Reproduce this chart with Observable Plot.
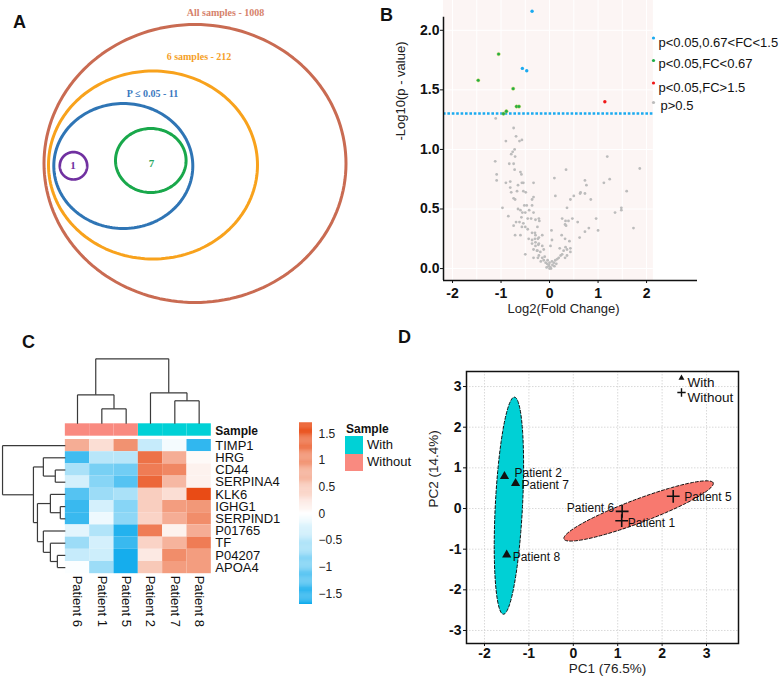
<!DOCTYPE html>
<html><head><meta charset="utf-8">
<script src="https://cdn.jsdelivr.net/npm/d3@7"></script>
<script src="https://cdn.jsdelivr.net/npm/@observablehq/plot@0.6"></script>
<style>
html,body{margin:0;padding:0;background:#fff;}
#root{position:relative;width:784px;height:680px;overflow:hidden;font-family:Arial,"Liberation Sans",sans-serif;color:#111;}
#root svg{position:absolute;}
.abs{position:absolute;white-space:nowrap;}
.letter{font:bold 18px Arial,"Liberation Sans",sans-serif;line-height:18px;}
</style></head><body><div id="root"></div>
<script>
// ================= DATA =================
// Panel A: nested protein sets
const vennNames  = ["All samples", "6 samples", "P ≤ 0.05", "", ""];
const vennCounts = [1008, 212, 11, 7, 1];

// Panel B: volcano plot  [log2FC, -log10 p]
const volcanoGray = [
 [-1.11,1.26],[-0.74,1.18],[-0.69,1.11],[-0.62,1.07],[-0.57,1.08],[-0.90,1.07],[-0.72,1.00],[-0.76,0.98],[-0.79,0.96],[-0.71,0.94],
 [-1.12,0.90],[-0.83,0.88],[-0.74,0.88],[-0.72,0.83],[-0.60,0.81],[-0.58,0.79],[-1.09,0.79],[-1.09,0.74],[-0.54,0.72],[-0.57,0.72],
 [-0.90,0.72],[-0.81,0.73],[-0.65,0.70],[-0.67,0.65],[-0.81,0.68],[-0.79,0.64],[-0.33,0.72],[-0.54,0.65],[-0.49,0.64],[-0.74,0.59],
 [-0.71,0.58],[-0.33,0.60],[-0.36,0.58],
 [-0.97,0.51],[-0.52,0.53],[-0.47,0.53],[-0.36,0.53],[-0.65,0.50],[-0.60,0.49],[-0.42,0.49],[-0.56,0.47],[-0.50,0.47],[-0.33,0.47],
 [-0.85,0.44],[-0.58,0.43],[-0.45,0.42],[-0.38,0.42],[-0.29,0.41],[-0.69,0.39],[-0.62,0.39],[-0.54,0.38],[-0.74,0.36],[-0.57,0.35],
 [-0.50,0.35],[-0.45,0.33],[-0.36,0.30],[-0.30,0.30],[-0.71,0.28],[-0.60,0.28],[-0.43,0.25],[-0.36,0.24],[-0.30,0.25],[-0.24,0.25],
 [-0.36,0.21],[-0.29,0.19],[-0.23,0.20],[-0.33,0.16],[-0.26,0.15],[-0.50,0.12],[-0.33,0.09],[-0.24,0.09],
 [-0.22,0.42],[-0.21,0.40],[0.04,0.32],[-0.25,0.35],[0.26,0.42],[0.32,0.37],[0.34,0.36],[0.12,0.61],[-0.29,0.28],[-0.22,0.26],
 [-0.15,0.28],[0.05,0.24],[0.25,0.28],[0.32,0.25],[-0.29,0.22],[-0.22,0.21],[-0.15,0.19],[0.02,0.19],[0.21,0.17],[0.29,0.15],
 [-0.25,0.15],[-0.19,0.14],[-0.12,0.16],
 [-0.22,0.11],[-0.15,0.09],[-0.12,0.07],[-0.08,0.05],[-0.05,0.04],[-0.01,0.03],[0.02,0.01],[0.06,0.03],[0.09,0.05],[0.12,0.07],
 [0.16,0.08],[0.19,0.09],[0.23,0.11],[0.26,0.12],[0.32,0.09],[0.36,0.11],[-0.18,0.06],[-0.10,0.10],[-0.04,0.07],[-0.02,0.02],
 [0.00,0.00],[0.03,0.00],[0.00,0.05],[0.05,0.06],[-0.06,0.01],[0.10,0.02],[0.14,0.04],
 [1.19,0.94],[1.86,0.84],[0.34,0.83],[1.12,0.72],[1.24,0.75],[0.73,0.74],[0.76,0.70],[1.59,0.65],[0.64,0.64],[0.63,0.63],
 [0.73,0.63],[0.50,0.61],[0.43,0.58],[0.85,0.58],[0.36,0.51],[1.48,0.51],[1.48,0.49],[1.35,0.47],[0.96,0.42],[0.47,0.42],
 [0.39,0.40],[0.33,0.40],[0.58,0.39],[0.81,0.34],[0.73,0.31],[1.00,0.32],[1.73,0.34],[0.62,0.26],[0.41,0.23],[0.33,0.18],
 [0.36,0.16],[0.43,0.17],[0.43,0.14],[0.10,0.76]
];
const volcanoMid  = [[-0.36,2.16],[-0.56,1.68],[-0.47,1.66]];                 // p<0.05, 0.67<FC<1.5
const volcanoDown = [[-1.05,1.80],[-1.47,1.58],[-0.75,1.51],[-0.68,1.36],[-0.63,1.36],[-0.89,1.32],[-0.95,1.30]]; // FC<0.67
const volcanoUp   = [[1.14,1.40]];                                             // FC>1.5
const volcanoLegend = ["p<0.05,0.67<FC<1.5", "p<0.05,FC<0.67", "p<0.05,FC>1.5", "p>0.5"];
const pThreshold = 1.301;
const volcanoXTicks = [-2, -1, 0, 1, 2];
const volcanoYTicks = [0, 0.5, 1, 1.5, 2];

// Panel C: heatmap (row z-scores)
const patients = ["Patient 6", "Patient 1", "Patient 5", "Patient 2", "Patient 7", "Patient 8"];
const patientGroup = ["Without", "Without", "Without", "With", "With", "With"];
const genes = ["TIMP1","HRG","CD44","SERPINA4","KLK6","IGHG1","SERPIND1","P01765","TF","P04207","APOA4"];
const zscores = [
 [ 0.75,  0.30,  1.00, -0.40, -0.08, -1.45],
 [-1.35, -0.50, -0.50,  1.30,  0.75,  0.05],
 [-0.60, -0.95, -1.00,  1.20,  1.10,  0.12],
 [-0.30, -0.85, -1.20,  1.40,  0.65,  0.12],
 [-1.20, -0.70, -0.60,  0.45,  0.30,  1.65],
 [-1.40, -0.30, -0.85,  0.45,  0.90,  0.95],
 [-1.40, -0.12, -0.80,  0.40,  0.75,  1.05],
 [-0.20, -0.55, -1.55,  1.20,  0.12,  0.75],
 [-0.70, -0.30, -1.40,  0.40,  0.70,  1.20],
 [-0.40, -0.35, -1.65,  0.20,  1.05,  0.90],
 [-0.03, -0.70, -1.65,  0.50,  0.90,  0.90]
];
const colTree = {h: 1, children: [
  {h: 0.446, children: ["Patient 6", {h: 0.23, children: ["Patient 1", "Patient 5"]}]},
  {h: 0.477, children: ["Patient 2", {h: 0.354, children: ["Patient 7", "Patient 8"]}]}]};
const rowTree = {h: 1, children: ["TIMP1",
  {h: 0.508, children: [
    {h: 0.35, children: ["HRG", {h: 0.16, children: ["CD44", "SERPINA4"]}]},
    {h: 0.444, children: [
      {h: 0.238, children: ["KLK6", {h: 0.08, children: ["IGHG1", "SERPIND1"]}]},
      {h: 0.35, children: ["P01765", {h: 0.238, children: ["TF", {h: 0.127, children: ["P04207", "APOA4"]}]}]}]}]}]};
const colorbarTicks = [-1.5, -1, -0.5, 0, 0.5, 1, 1.5];
const sampleGroups = ["With", "Without"];

// Panel D: PCA
const pcaPatients = ["Patient 2", "Patient 7", "Patient 8", "Patient 6", "Patient 1", "Patient 5"];
const pcaGroup = ["With", "With", "With", "Without", "Without", "Without"];
const pc1 = [-1.55, -1.30, -1.50, 1.10, 1.09, 2.25];
const pc2 = [ 0.79,  0.62, -1.14, -0.07, -0.30, 0.30];
const pcaXTicks = [-2, -1, 0, 1, 2, 3];
const pcaYTicks = [-3, -2, -1, 0, 1, 2, 3];
// confidence ellipses: centre, semi-axis vectors (data units)
const pcaEllipses = [
  {group: "With",    cx: -1.45, cy: 0.07,  ax: 0.125, ay: 2.67, bx: 0.306, by: -0.017},
  {group: "Without", cx: 1.47,  cy: -0.06, ax: 1.68,  ay: 0.69, bx: 0.093, by: -0.27}
];

// ================= STYLE / LAYOUT =================
const FONT = "'Liberation Sans', Arial, sans-serif";
const groupColor = {With: "#00d1d6", Without: "#f98a80"};
const vennLayout = [
  {cx:194.5, cy:163,   rx:151,   ry:139,  lx:225,   ly:12,   stroke:"#c96b52", text:"#d6826b", sw:3},
  {cx:152.5, cy:164.5, rx:104.5, ry:94,   lx:198.5, ly:56,   stroke:"#f8a21c", text:"#f5a027", sw:3},
  {cx:122.8, cy:165.5, rx:69.5,  ry:62.5, lx:152,   ly:93.5, stroke:"#2f75b5", text:"#3a78c0", sw:3},
  {cx:150.3, cy:160,   rx:35.3,  ry:32,   lx:151,   ly:163,  stroke:"#19a84b", text:"#2aa760", sw:3},
  {cx:73,    cy:165.3, rx:13.7,  ry:13.7, lx:72.5,  ly:165,  stroke:"#7030a0", text:"#7030a0", sw:2.7}
];
const volcanoColors = ["#1aaaf0", "#1fae48", "#f01818", "#bcbcbc"];
const pcaLabelOffsets = [
  {dx: 10, dy: -3, anchor: "start"}, {dx: 6, dy: 1.5, anchor: "start"}, {dx: 6, dy: 2.5, anchor: "start"},
  {dx: -8, dy: -3, anchor: "end"},   {dx: 6, dy: 2.5, anchor: "start"}, {dx: 11, dy: 1, anchor: "start"}
];
const tickText = {fontSize: 14, fontWeight: "bold", fontFamily: FONT, fill: "#111"};

const root = document.getElementById("root");
function put(el, left, top) { el.style.left = left + "px"; el.style.top = top + "px"; root.appendChild(el); return el; }
function div(html, left, top, css) { const d = document.createElement("div"); d.className = "abs"; d.innerHTML = html; if (css) d.style.cssText += css; return put(d, left, top); }
const transparent = {background: "transparent", overflow: "visible"};

// ================= PANEL A =================
function ellipsePoints(e, n = 160) {
  return d3.range(n).map(i => { const t = 2 * Math.PI * i / n; return {x: e.cx + e.rx * Math.cos(t), y: e.cy + e.ry * Math.sin(t)}; });
}
const vennText = vennNames.map((n, i) => n ? `${n} - ${vennCounts[i]}` : `${vennCounts[i]}`);
put(Plot.plot({
  width: 390, height: 310, margin: 0,
  x: {domain: [0, 390], range: [0, 390], axis: null},
  y: {domain: [0, 310], range: [0, 310], axis: null},
  style: transparent,
  marks: [
    ...vennLayout.map(e => Plot.line(ellipsePoints(e), {x: "x", y: "y", curve: "linear-closed", stroke: e.stroke, strokeWidth: e.sw})),
    ...vennLayout.map((e, i) => Plot.text([vennText[i]], {x: () => e.lx, y: () => e.ly, text: d => d, fill: e.text,
      fontFamily: "'Liberation Serif', 'DejaVu Serif', serif", fontWeight: "bold", fontSize: i >= 3 ? 11 : 10}))
  ]
}), 0, 0);

// ================= PANEL B =================
const bX0 = -2.186, bX1 = 3.05, bY0 = -0.10, bY1 = 2.25, bPanelRight = 2.14;
put(Plot.plot({
  width: 394, height: 320, marginLeft: 53, marginRight: 87, marginTop: 0, marginBottom: 40,
  x: {domain: [bX0, bX1]}, y: {domain: [bY0, bY1]},
  style: transparent,
  marks: [
    Plot.rect([0], {x1: () => bX0, x2: () => bPanelRight, y1: () => bY0, y2: () => bY1, fill: "#fcf5f4"}),
    Plot.ruleX(d3.range(-2, 2.01, 0.5), {y1: bY0, y2: bY1, stroke: "#ffffff", strokeWidth: 1}),
    Plot.ruleY(d3.range(0, 2.01, 0.5), {x1: bX0, x2: bPanelRight, stroke: "#ffffff", strokeWidth: 1}),
    Plot.ruleY([pThreshold], {x1: bX0, x2: bPanelRight, stroke: volcanoColors[0], strokeWidth: 2.6, strokeDasharray: "2.6,1.8"}),
    Plot.dot(volcanoGray, {x: d => d[0], y: d => d[1], r: 1.4, fill: volcanoColors[3]}),
    Plot.dot(volcanoMid,  {x: d => d[0], y: d => d[1], r: 1.7, fill: volcanoColors[0]}),
    Plot.dot(volcanoDown, {x: d => d[0], y: d => d[1], r: 1.7, fill: volcanoColors[1], stroke: "#c9cf3a", strokeWidth: 0.4}),
    Plot.dot(volcanoUp,   {x: d => d[0], y: d => d[1], r: 1.7, fill: volcanoColors[2]}),
    Plot.ruleX([bX0], {y1: bY0, y2: 2.11, strokeWidth: 1.5, stroke: "#111"}),
    Plot.ruleY([bY0], {x1: bX0, x2: bX1, strokeWidth: 1.5, stroke: "#111"}),
    Plot.axisY({ticks: volcanoYTicks, tickFormat: () => "", tickSize: 3, label: null, stroke: "#111"}),
    Plot.axisX({ticks: volcanoXTicks, tickFormat: () => "", tickSize: 3, label: null, stroke: "#111"}),
    Plot.text(volcanoYTicks, {x: () => bX0, y: d => d, dx: -4, text: d3.format(".1f"), textAnchor: "end", ...tickText}),
    Plot.text(volcanoXTicks, {x: d => d, y: () => bY0, dy: 13, text: d => String(d), ...tickText}),
    Plot.text(["-Log10(p - value)"], {frameAnchor: "left", dx: -43, rotate: -90, text: d => d, fontSize: 13, fontFamily: FONT, fill: "#222"}),
    Plot.text(["Log2(Fold Change)"], {frameAnchor: "bottom", dx: -7, dy: 32, text: d => d, fontSize: 13, fontFamily: FONT, fill: "#222"}),
    ...volcanoLegend.map((lab, i) => Plot.dot([lab], {frameAnchor: "top-right", dx: -44, dy: [37.5, 60, 82.5, 102][i], r: 1.6, fill: volcanoColors[i]})),
    ...volcanoLegend.map((lab, i) => Plot.text([lab], {frameAnchor: "top-right", dx: [-39, -39, -39, -37][i], dy: [37, 58, 82, 100][i],
      text: d => d, textAnchor: "start", fontSize: 13, fontFamily: FONT, fill: "#111"}))
  ]
}), 390, 0);

// ================= PANEL C =================
const cW = 410, cH = 350, cTop = 330;
const colW = 24.33, col0 = 77;       // px: width of a column, centre of first column
const rowH = 12.2, row0 = 445.1;     // px: height of a row, centre of first row (page)
const annTop = (423.3 - row0) / rowH, annBot = (435.7 - row0) / rowH;
const colDendroSpan = (423.3 - 358.3) / rowH;
const rowLeaf = -0.5, rowDendroSpan = (64.8 - 2) / colW;

function dendrogram(tree, order) {
  const segs = [];
  (function walk(node) {
    if (typeof node === "string") return {pos: order.indexOf(node), h: 0};
    const kids = node.children.map(walk);
    const p1 = kids[0].pos, p2 = kids[kids.length - 1].pos;
    segs.push({p1, p2, h1: node.h, h2: node.h});
    for (const k of kids) segs.push({p1: k.pos, p2: k.pos, h1: k.h, h2: node.h});
    return {pos: (p1 + p2) / 2, h: node.h};
  })(tree);
  return segs;
}
const colSegs = dendrogram(colTree, patients);
const rowSegs = dendrogram(rowTree, genes);
const cells = genes.flatMap((g, r) => patients.map((p, c) => ({r, c, v: zscores[r][c]})));
const colorScale = {type: "linear", domain: [-1.7, 0, 1.7], range: ["#0eaaec", "#ffffff", "#e8460e"]};

put(Plot.plot({
  width: cW, height: cH, margin: 0,
  x: {domain: [-col0 / colW, (cW - col0) / colW], range: [0, cW], axis: null},
  y: {domain: [(cTop - row0) / rowH, (cTop + cH - row0) / rowH], range: [0, cH], axis: null},
  color: colorScale,
  style: transparent,
  marks: [
    Plot.rect(cells, {x1: d => d.c - 0.5, x2: d => d.c + 0.5, y1: d => d.r - 0.5, y2: d => d.r + 0.5, fill: "v"}),
    ...sampleGroups.map(g => Plot.rect(patients.map((p, c) => c).filter(c => patientGroup[c] === g),
      {x1: c => c - 0.5, x2: c => c + 0.5, y1: () => annTop, y2: () => annBot, fill: groupColor[g]})),
    Plot.link(colSegs, {x1: "p1", x2: "p2", y1: d => annTop - d.h1 * colDendroSpan, y2: d => annTop - d.h2 * colDendroSpan,
      stroke: "#3a3a3a", strokeWidth: 1.2}),
    Plot.link(rowSegs, {y1: "p1", y2: "p2", x1: d => rowLeaf - d.h1 * rowDendroSpan, x2: d => rowLeaf - d.h2 * rowDendroSpan,
      stroke: "#3a3a3a", strokeWidth: 1.2}),
    Plot.text(genes, {x: () => patients.length - 0.5, y: (d, i) => i, dx: 4, text: d => d, textAnchor: "start",
      fontSize: 13, fontFamily: FONT, fill: "#111"}),
    Plot.text(patients, {x: (d, i) => i, y: () => genes.length - 0.5, dy: 2, rotate: 90, text: d => d, textAnchor: "start",
      fontSize: 13, fontFamily: FONT, fill: "#111"}),
    Plot.text(["Sample"], {x: () => patients.length - 0.5, y: () => (annTop + annBot) / 2, dx: 4, dy: 1, text: d => d,
      textAnchor: "start", fontSize: 12, fontWeight: "bold", fontFamily: FONT, fill: "#111"})
  ]
}), 0, cTop);

// colour bar
put(Plot.plot({
  width: 60, height: 210, marginLeft: 9, marginRight: 38, marginTop: 17.5, marginBottom: 11,
  x: {domain: [0, 1], axis: null}, y: {domain: [-1.7, 1.7], axis: null},
  color: colorScale, style: transparent,
  marks: [
    Plot.rect(d3.range(-1.7, 1.7, 0.02), {x1: () => 0, x2: () => 1, y1: d => d, y2: d => d + 0.022, fill: d => d + 0.01}),
    Plot.text(colorbarTicks, {x: () => 1, y: d => d, dx: 6, text: d3.format("~g"), textAnchor: "start",
      fontSize: 12, fontFamily: FONT, fill: "#222"})
  ]
}), 290, 405);

// sample legend
div("Sample", 346, 422.5, "font:bold 12px " + FONT + ";line-height:12px;");
sampleGroups.forEach((g, i) => {
  div("", 345, 436 + i * 17.5, `width:18px;height:17.5px;background:${groupColor[g]};`);
  div(g, 367, 437.5 + i * 17.5, "font:13px " + FONT + ";line-height:13px;");
});

// ================= PANEL D =================
function rotatedEllipse(e, n = 160) {
  return d3.range(n).map(i => { const t = 2 * Math.PI * i / n, c = Math.cos(t), s = Math.sin(t);
    return {x: e.cx + e.ax * c + e.bx * s, y: e.cy + e.ay * c + e.by * s}; });
}
const dX0 = -2.405, dX1 = 3.72, dY0 = -3.32, dY1 = 3.37;
const pca = pcaPatients.map((p, i) => ({p, g: pcaGroup[i], x: pc1[i], y: pc2[i], o: pcaLabelOffsets[i]}));
put(Plot.plot({
  width: 384, height: 360, marginLeft: 66, marginRight: 46, marginTop: 51, marginBottom: 37,
  x: {domain: [dX0, dX1]}, y: {domain: [dY0, dY1]},
  style: transparent,
  marks: [
    Plot.ruleX(pcaXTicks, {stroke: "#cfcfcf", strokeWidth: 0.8, strokeDasharray: "1.5,1.5"}),
    Plot.ruleY(pcaYTicks, {stroke: "#cfcfcf", strokeWidth: 0.8, strokeDasharray: "1.5,1.5"}),
    ...pcaEllipses.map(e => Plot.line(rotatedEllipse(e), {x: "x", y: "y", curve: "linear-closed",
      fill: e.group === "With" ? "#00d0d5" : "#f8796f", stroke: "#111", strokeWidth: 1, strokeDasharray: "3,2"})),
    Plot.dot(pca.filter(d => d.g === "With"), {x: "x", y: "y", symbol: "triangle", r: 3.4, fill: "#111"}),
    Plot.dot(pca.filter(d => d.g === "Without"), {x: "x", y: "y", symbol: "plus", r: 4.2, stroke: "#111", strokeWidth: 1.6}),
    ...pca.map(d => Plot.text([d], {x: "x", y: "y", text: "p", dx: d.o.dx, dy: d.o.dy, textAnchor: d.o.anchor,
      fontSize: 12, fontFamily: FONT, fill: "#111"})),
    Plot.frame({stroke: "#111", strokeWidth: 1.5}),
    Plot.axisX({ticks: pcaXTicks, tickFormat: () => "", tickSize: 3, label: null, stroke: "#111"}),
    Plot.axisY({ticks: pcaYTicks, tickFormat: () => "", tickSize: 3, label: null, stroke: "#111"}),
    Plot.text(pcaXTicks, {x: d => d, y: () => dY0, dy: 10, text: d => String(d), ...tickText}),
    Plot.text(pcaYTicks, {x: () => dX0, y: d => d, dx: -5, text: d => String(d), textAnchor: "end", ...tickText}),
    Plot.text(["PC1 (76.5%)"], {frameAnchor: "bottom", dx: 5, dy: 29, text: d => d, fontSize: 13.5, fontFamily: FONT, fill: "#222"}),
    Plot.text(["PC2 (14.4%)"], {frameAnchor: "left", dx: -33, rotate: -90, text: d => d, fontSize: 13.5, fontFamily: FONT, fill: "#222"}),
    Plot.dot(["With"], {frameAnchor: "top-right", dx: -57, dy: 6.5, symbol: "triangle", r: 2.2, fill: "#111"}),
    Plot.dot(["Without"], {frameAnchor: "top-right", dx: -57, dy: 21, symbol: "plus", r: 2.8, stroke: "#111", strokeWidth: 1.4}),
    Plot.text(["With"], {frameAnchor: "top-right", dx: -51, dy: 6, text: d => d, textAnchor: "start",
      fontSize: 13.5, fontFamily: FONT, fill: "#111"}),
    Plot.text(["Without"], {frameAnchor: "top-right", dx: -51, dy: 20.5, text: d => d, textAnchor: "start",
      fontSize: 13.5, fontFamily: FONT, fill: "#111"})
  ]
}), 400, 320);

// panel letters
div("A", 13, 13).className = "abs letter";
div("B", 380, 6).className = "abs letter";
div("C", 22, 333).className = "abs letter";
div("D", 398, 328).className = "abs letter";
</script></body></html>
